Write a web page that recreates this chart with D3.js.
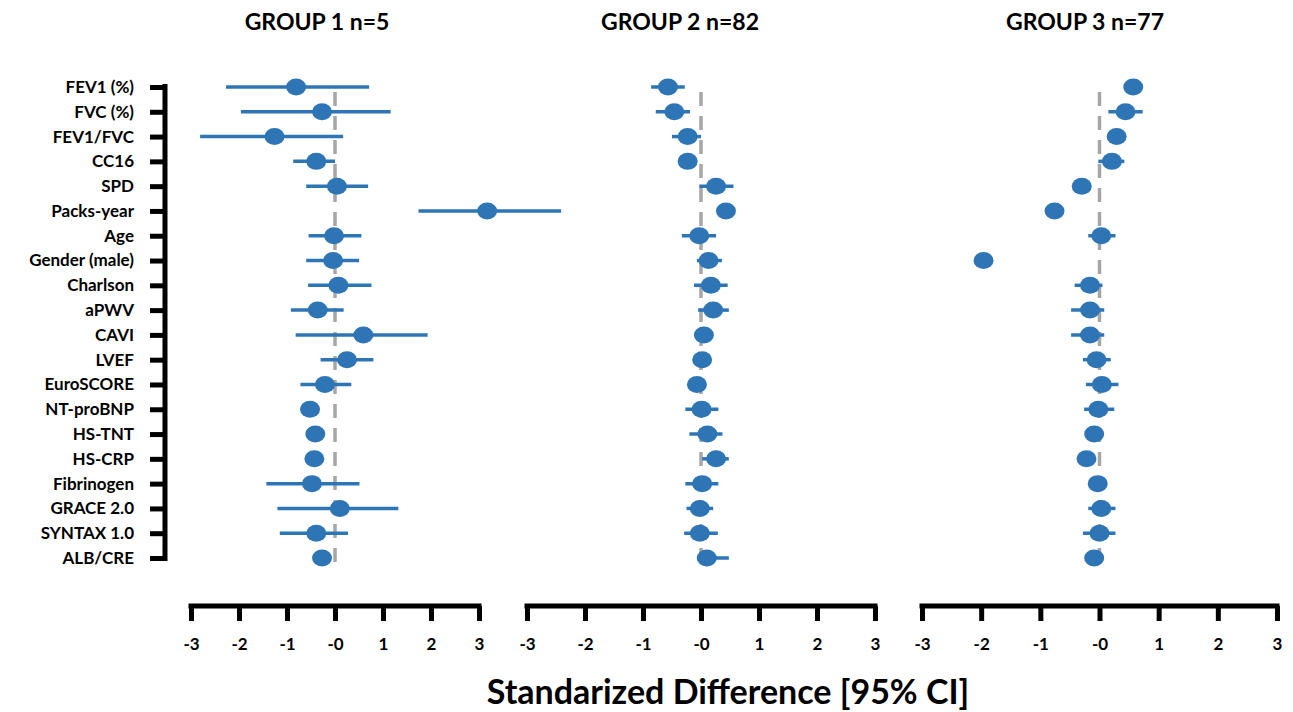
<!DOCTYPE html>
<html lang="en">
<head>
  <meta charset="utf-8">
  <script src="https://d3js.org/d3.v7.min.js"></script>
  <style>
    body { margin: 0; background: #fff; }
    text { font-family: Lato, "Open Sans", sans-serif; font-weight: 700; fill: #000; }
  </style>
</head>
<body>
  <div id="my_dataviz"></div>
  <script>
    // row labels, top to bottom
    const variables = ["FEV1 (%)", "FVC (%)", "FEV1/FVC", "CC16", "SPD", "Packs-year", "Age",
      "Gender (male)", "Charlson", "aPWV", "CAVI", "LVEF", "EuroSCORE", "NT-proBNP", "HS-TNT",
      "HS-CRP", "Fibrinogen", "GRACE 2.0", "SYNTAX 1.0", "ALB/CRE"];

    const groups = ["GROUP 1 n=5", "GROUP 2 n=82", "GROUP 3 n=77"];

    // standardized difference, lower and upper 95% CI, per group
    const g1Est = [-0.81, -0.27, -1.26, -0.39, 0.04, 3.17, -0.02, -0.04, 0.07, -0.36,
      0.59, 0.25, -0.21, -0.52, -0.41, -0.43, -0.48, 0.10, -0.39, -0.27];
    const g1Lo = [-2.27, -1.96, -2.81, -0.87, -0.60, 1.74, -0.55, -0.60, -0.56, -0.92,
      -0.82, -0.30, -0.72, -0.60, -0.50, -0.50, -1.43, -1.20, -1.15, -0.35];
    const g1Hi = [0.71, 1.16, 0.17, 0.00, 0.69, 4.71, 0.55, 0.50, 0.76, 0.18,
      1.93, 0.80, 0.34, -0.44, -0.32, -0.36, 0.51, 1.32, 0.27, -0.19];

    const g2Est = [-0.57, -0.46, -0.23, -0.23, 0.26, 0.43, -0.03, 0.13, 0.17, 0.21,
      0.05, 0.02, -0.07, 0.01, 0.11, 0.26, 0.02, -0.02, -0.02, 0.10];
    const g2Lo = [-0.86, -0.78, -0.50, -0.30, -0.03, 0.36, -0.33, -0.07, -0.12, -0.05,
      -0.02, -0.05, -0.14, -0.27, -0.20, 0.02, -0.27, -0.25, -0.29, -0.07];
    const g2Hi = [-0.28, -0.19, 0.00, -0.16, 0.56, 0.50, 0.26, 0.36, 0.46, 0.48,
      0.12, 0.09, 0.00, 0.30, 0.37, 0.48, 0.30, 0.21, 0.29, 0.48];

    const g3Est = [0.57, 0.44, 0.29, 0.21, -0.30, -0.76, 0.03, -1.96, -0.16, -0.16,
      -0.16, -0.05, 0.04, -0.02, -0.09, -0.22, -0.03, 0.03, 0.00, -0.09];
    const g3Lo = [0.50, 0.15, 0.22, -0.02, -0.37, -0.83, -0.19, -2.03, -0.42, -0.48,
      -0.48, -0.28, -0.23, -0.26, -0.16, -0.29, -0.10, -0.19, -0.28, -0.16];
    const g3Hi = [0.64, 0.73, 0.36, 0.42, -0.23, -0.69, 0.27, -1.89, 0.05, 0.08,
      0.08, 0.19, 0.32, 0.25, -0.02, -0.15, 0.04, 0.27, 0.27, -0.02];

    const tickValues = [-3, -2, -1, 0, 1, 2, 3];
    const tickLabels = ["-3", "-2", "-1", "-0", "1", "2", "3"];

    const width = 1293, height = 712;
    const blue = "#2e75b6";

    const svg = d3.select("#my_dataviz")
      .append("svg")
        .attr("width", width)
        .attr("height", height);

    // rows
    const y = d3.scalePoint()
      .domain(variables)
      .range([87, 558]);

    // left axis with labels
    const yAxis = svg.append("g")
      .attr("transform", "translate(165,0)")
      .call(d3.axisLeft(y).tickSizeInner(15).tickSizeOuter(0).tickPadding(16));
    yAxis.select(".domain").attr("stroke", "#000").attr("stroke-width", 5).attr("d", `M0,${y.range()[0] - 3}V${y.range()[1] + 3}`);
    yAxis.selectAll(".tick line").attr("stroke", "#000").attr("stroke-width", 5);
    yAxis.selectAll(".tick text")
      .style("font-family", "Lato, sans-serif")
      .style("font-weight", "700")
      .style("font-size", "17px")
      .attr("fill", "#000");

    // one panel per group
    const panels = [
      {title: groups[0], range: [191, 479], est: g1Est, lo: g1Lo, hi: g1Hi, titleX: 317},
      {title: groups[1], range: [527, 875], est: g2Est, lo: g2Lo, hi: g2Hi, titleX: 680},
      {title: groups[2], range: [922, 1277], est: g3Est, lo: g3Lo, hi: g3Hi, titleX: 1085}
    ];

    panels.forEach(function(p) {
      const x = d3.scaleLinear()
        .domain([-3, 3])
        .range(p.range);

      const g = svg.append("g");

      // title
      g.append("text")
        .attr("x", p.titleX)
        .attr("y", 30)
        .attr("text-anchor", "middle")
        .style("font-size", "23px")
        .text(p.title);

      // zero reference line
      g.append("line")
        .attr("x1", x(0)).attr("x2", x(0))
        .attr("y1", 92).attr("y2", 572)
        .attr("stroke", "#a6a6a6")
        .attr("stroke-width", 3.5)
        .attr("stroke-dasharray", "14,10");

      const rows = variables.map((v, i) => ({v: v, est: p.est[i], lo: p.lo[i], hi: p.hi[i]}));

      // CI bars
      g.selectAll("ci")
        .data(rows)
        .join("line")
          .attr("x1", d => x(d.lo))
          .attr("x2", d => x(d.hi))
          .attr("y1", d => y(d.v))
          .attr("y2", d => y(d.v))
          .attr("stroke", blue)
          .attr("stroke-width", 3.5);

      // points
      g.selectAll("pt")
        .data(rows)
        .join("ellipse")
          .attr("cx", d => x(d.est))
          .attr("cy", d => y(d.v))
          .attr("rx", 10)
          .attr("ry", 8.5)
          .attr("fill", blue);

      // bottom axis
      const ax = g.append("g")
        .attr("transform", "translate(0,606)")
        .call(d3.axisBottom(x)
          .tickValues(tickValues)
          .tickFormat((d, i) => tickLabels[i])
          .tickSizeInner(15)
          .tickSizeOuter(0)
          .tickPadding(17));
      ax.select(".domain").attr("stroke", "#000").attr("stroke-width", 5)
        .attr("d", `M${p.range[0] - 2.5},0H${p.range[1] + 2.5}`);
      ax.selectAll(".tick line").attr("stroke", "#000").attr("stroke-width", 5);
      ax.selectAll(".tick text")
        .style("font-family", "Lato, sans-serif")
        .style("font-weight", "700")
        .style("font-size", "17px")
        .attr("fill", "#000");
    });

    // x axis title
    svg.append("text")
      .attr("x", 728)
      .attr("y", 704)
      .attr("text-anchor", "middle")
      .style("font-size", "34px")
      .text("Standarized Difference [95% CI]");
  </script>
</body>
</html>
